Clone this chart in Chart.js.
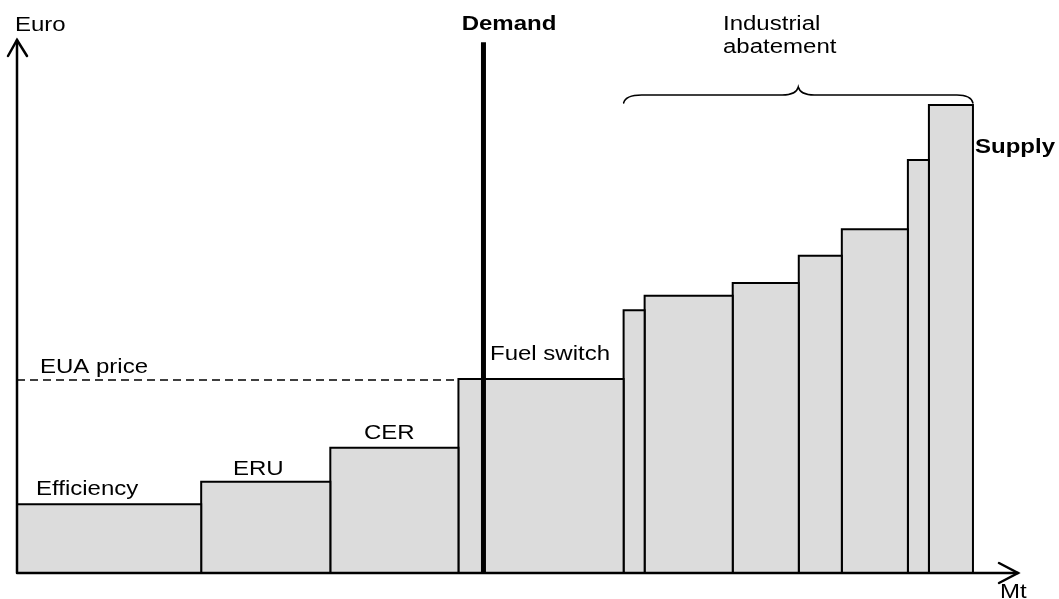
<!DOCTYPE html>
<html>
<head>
<meta charset="utf-8">
<script src="https://cdn.jsdelivr.net/npm/chart.js@4"></script>
<style>
  html, body { margin: 0; padding: 0; background: #fff; }
  #wrap { width: 1059px; height: 599px; }
</style>
</head>
<body>
<div id="wrap"><canvas id="chart" width="1059" height="599"></canvas></div>
<script>
// supply steps: width of each block (Mt) and its cost (Euro)
const blockNames = ['Efficiency', 'ERU', 'CER', 'Fuel switch', 'Ind 1', 'Ind 2', 'Ind 3', 'Ind 4', 'Ind 5', 'Ind 6', 'Ind 7'];
const blockWidths = [18.4, 12.9, 12.8, 16.5, 2.1, 8.8, 6.6, 4.3, 6.6, 2.1, 4.4];
const blockPrices = [12.9, 17.1, 23.5, 36.4, 49.3, 52.0, 54.4, 59.5, 64.5, 77.5, 87.8];
const euaPrice = 36.2;
const demandQty = 46.6;
const demandTop = 99.6;

const FONT = '"Liberation Sans", Arial, sans-serif';

// build one closed step polygon per block
let start = 0;
const blockSets = blockWidths.map((w, i) => {
    const x0 = start;
    const x1 = start + w;
    start = x1;
    return {
        label: blockNames[i],
        data: [{x: x0, y: 0}, {x: x0, y: blockPrices[i]}, {x: x1, y: blockPrices[i]}, {x: x1, y: 0}],
        borderColor: '#000',
        borderWidth: 2,
        backgroundColor: '#dcdcdc',
        fill: 'origin',
        pointRadius: 0,
        tension: 0,
        clip: false,
        order: 3
    };
});
const fuelStart = blockWidths.slice(0, 3).reduce((a, b) => a + b, 0);

const euaSet = {
    label: 'EUA price',
    data: [{x: 0, y: euaPrice}, {x: fuelStart, y: euaPrice}],
    borderColor: '#000',
    borderWidth: 1.5,
    borderDash: [8, 5],
    pointRadius: 0,
    fill: false,
    clip: false,
    order: 1
};

const demandSet = {
    label: 'Demand',
    data: [{x: demandQty, y: 0}, {x: demandQty, y: demandTop}],
    borderColor: '#000',
    borderWidth: 5,
    pointRadius: 0,
    fill: false,
    clip: false,
    order: 0
};

function drawText(ctx, text, x, y, bold, align) {
    ctx.save();
    ctx.font = (bold ? 'bold ' : '') + '20px ' + FONT;
    ctx.fillStyle = '#000';
    ctx.textBaseline = 'alphabetic';
    ctx.textAlign = align || 'left';
    ctx.translate(x, y);
    ctx.scale(1.2, 1);
    ctx.fillText(text, 0, 0);
    ctx.restore();
}

const decorPlugin = {
    id: 'decor',
    afterDatasetsDraw(chart) {
        const ctx = chart.ctx;
        const xs = chart.scales.x;
        const ys = chart.scales.y;
        const ox = xs.getPixelForValue(0);
        const oy = ys.getPixelForValue(0);
        const top = ys.getPixelForValue(100);
        const right = xs.getPixelForValue(100);

        ctx.save();
        ctx.strokeStyle = '#000';
        ctx.lineWidth = 2.5;
        ctx.lineCap = 'round';
        // axes
        ctx.beginPath();
        ctx.moveTo(ox, oy);
        ctx.lineTo(ox, top);
        ctx.moveTo(ox, oy);
        ctx.lineTo(right, oy);
        ctx.stroke();
        // arrow heads
        ctx.beginPath();
        ctx.moveTo(ox - 9, top + 16);
        ctx.lineTo(ox, top);
        ctx.lineTo(ox + 10, top + 16);
        ctx.moveTo(right - 19, oy - 10);
        ctx.lineTo(right, oy);
        ctx.lineTo(right - 19, oy + 10);
        ctx.stroke();

        // brace over the industrial blocks
        const bx0 = xs.getPixelForValue(fuelStart + blockWidths[3]);
        const bx1 = xs.getPixelForValue(blockWidths.reduce((a, b) => a + b, 0));
        const bm = (bx0 + bx1) / 2;
        ctx.lineWidth = 1.5;
        ctx.beginPath();
        ctx.moveTo(bx0, 103);
        ctx.quadraticCurveTo(bx0 + 2, 95, bx0 + 18, 95);
        ctx.lineTo(bm - 16, 95);
        ctx.quadraticCurveTo(bm - 2, 95, bm, 87);
        ctx.quadraticCurveTo(bm + 2, 95, bm + 16, 95);
        ctx.lineTo(bx1 - 16, 95);
        ctx.quadraticCurveTo(bx1 - 2, 95, bx1, 103);
        ctx.stroke();
        ctx.restore();

        drawText(ctx, 'Euro', 15, 31, false);
        drawText(ctx, 'Mt', 1000, 598, false);
        drawText(ctx, 'Demand', 509, 30, true, 'center');
        drawText(ctx, 'Industrial', 723, 30, false);
        drawText(ctx, 'abatement', 723, 53, false);
        drawText(ctx, 'Supply', 975, 153, true);
        drawText(ctx, 'EUA price', 40, 373, false);
        drawText(ctx, 'Efficiency', 36, 495, false);
        drawText(ctx, 'ERU', 233, 475, false);
        drawText(ctx, 'CER', 364, 439, false);
        drawText(ctx, 'Fuel switch', 490, 360, false);
    }
};

new Chart(document.getElementById('chart'), {
    type: 'line',
    data: { datasets: [demandSet, euaSet, ...blockSets] },
    options: {
        responsive: false,
        animation: false,
        layout: { padding: { left: 17, right: 41, top: 40, bottom: 26 } },
        scales: {
            x: { type: 'linear', min: 0, max: 100, display: false },
            y: { type: 'linear', min: 0, max: 100, display: false }
        },
        plugins: {
            legend: { display: false },
            tooltip: { enabled: false }
        }
    },
    plugins: [decorPlugin]
});
</script>
</body>
</html>
